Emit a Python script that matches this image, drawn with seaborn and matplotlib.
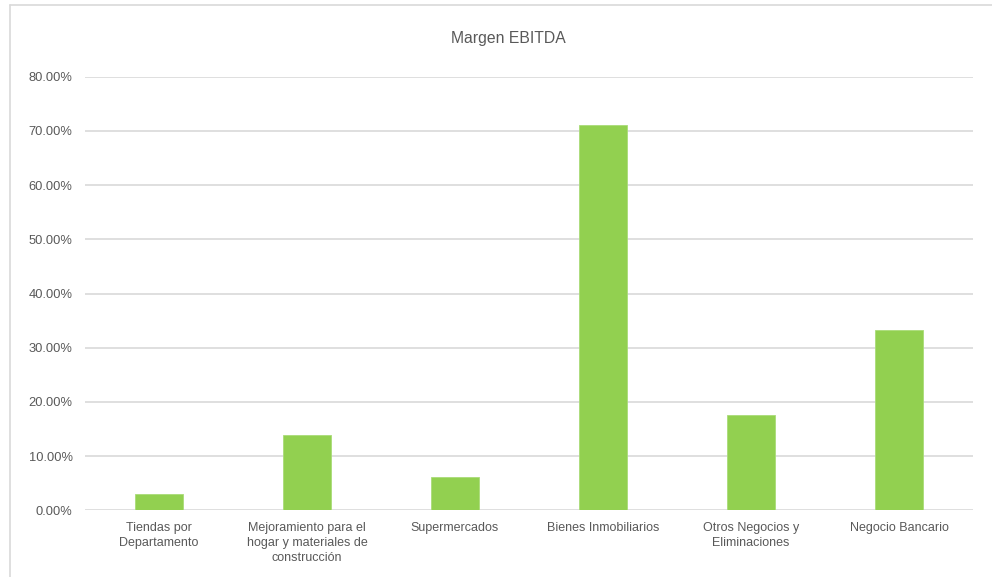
import matplotlib
matplotlib.use("Agg")
import matplotlib.pyplot as plt
from matplotlib.lines import Line2D
from matplotlib.ticker import FuncFormatter
import seaborn as sns
import pandas as pd

categories = [
    "Tiendas por\nDepartamento",
    "Mejoramiento para el\nhogar y materiales de\nconstrucción",
    "Supermercados",
    "Bienes Inmobiliarios",
    "Otros Negocios y\nEliminaciones",
    "Negocio Bancario",
]
margen_ebitda = [0.030, 0.139, 0.061, 0.710, 0.176, 0.333]
y_ticks = [0.0, 0.1, 0.2, 0.3, 0.4, 0.5, 0.6, 0.7, 0.8]

sns.set_style("white")
plt.rcParams["font.family"] = ["Liberation Sans", "DejaVu Sans"]

text_color = "#595959"
grid_color = "#D9D9D9"
bar_color = "#92D050"

df = pd.DataFrame({"segmento": categories, "margen": margen_ebitda})

fig = plt.figure(figsize=(9.92, 5.77), dpi=100)
ax = fig.add_axes([85 / 992, 1 - 510.3 / 577, (973 - 85) / 992, (510.3 - 76.7) / 577])

sns.barplot(data=df, x="segmento", y="margen", color=bar_color, width=0.32,
            saturation=1, edgecolor="#A9DC78", linewidth=0.6, ax=ax, zorder=3)

ax.set_ylim(0, 0.8)
ax.set_xlim(-0.5, len(categories) - 0.5)
ax.set_yticks(y_ticks)
ax.yaxis.set_major_formatter(FuncFormatter(lambda v, _: f"{v * 100:.2f}%"))
ax.grid(axis="y", color=grid_color, linewidth=1.2, zorder=0)
ax.set_axisbelow(True)
for s in ax.spines.values():
    s.set_visible(False)
ax.tick_params(axis="both", length=0, labelsize=9, colors=text_color)
ax.tick_params(axis="y", labelsize=9.3, pad=9)
ax.tick_params(axis="x", pad=8.5)
for lbl in ax.get_xticklabels():
    lbl.set_linespacing(1.3)
ax.set_xlabel("")
ax.set_ylabel("")

fig.text(508 / 992, 1 - 38 / 577, "Margen EBITDA", ha="center", va="center",
         fontsize=11.3, color=text_color)

# chart area frame (left and top edges)
fig.add_artist(Line2D([10 / 992, 10 / 992], [0, 1 - 5 / 577], color=grid_color,
                      linewidth=1.2, transform=fig.transFigure))
fig.add_artist(Line2D([10 / 992, 1], [1 - 5 / 577, 1 - 5 / 577], color=grid_color,
                      linewidth=1.2, transform=fig.transFigure))

fig.savefig("out.png", dpi=100, facecolor="white")
